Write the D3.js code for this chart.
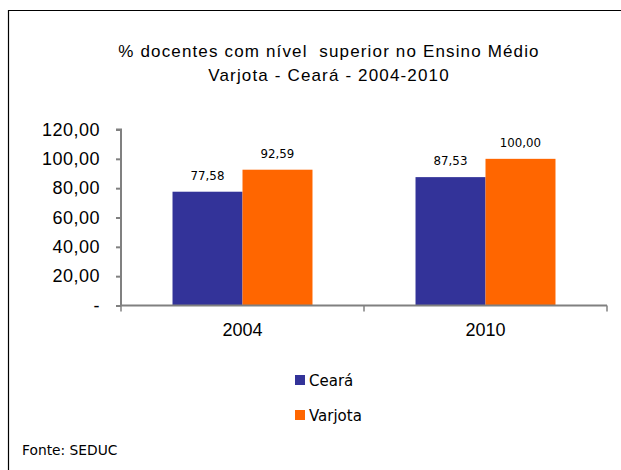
<!DOCTYPE html>
<html><head><meta charset="utf-8">
<script src="https://cdn.jsdelivr.net/npm/d3@7"></script>
<style>body{margin:0;background:#fff}</style>
</head><body>
<svg id="c" width="621" height="470"></svg>
<script>
const categories = ["2004", "2010"];
const seriesNames = ["Ceará", "Varjota"];
const ceara = [77.58, 87.53];
const varjota = [92.59, 100.00];
const yTicks = [0, 20, 40, 60, 80, 100, 120];
const colors = ["#333399", "#FF6600"];
const titleLines = ["% docentes com nível  superior no Ensino Médio", "Varjota - Ceará - 2004-2010"];
const source = "Fonte: SEDUC";

const svg = d3.select("#c");
// frame
svg.append("path").attr("d","M8.5,470 V10.5 H621").attr("fill","none").attr("stroke","#000").attr("stroke-width",1.2);

const x0 = 121, x1 = 607, yTop = 129.5, yBot = 305.5;
const x = d3.scaleBand().domain(categories).range([x0, x1]).paddingInner(0).paddingOuter(0);
const y = d3.scaleLinear().domain([0, 120]).range([yBot, yTop]);
const inner = d3.scaleBand().domain(seriesNames).range([0, x.bandwidth()]).paddingInner(0).paddingOuter(0.736);
const fmt = v => v === 0 ? "-" : d3.format(".2f")(v).replace(".", ",");

// title
[57, 81].forEach((ty, i) => {
  svg.append("text").attr("x", 329).attr("y", ty).attr("text-anchor","middle")
    .attr("font-family","Liberation Sans, Arial, sans-serif").attr("font-size",17)
    .attr("letter-spacing", 1.15).style("white-space","pre").text(titleLines[i]);
});

// bars
const data = [ceara, varjota];
const g = svg.append("g");
categories.forEach((c, i) => {
  seriesNames.forEach((s, j) => {
    const v = data[j][i];
    g.append("rect").attr("x", x(c) + inner(s)).attr("width", inner.bandwidth())
      .attr("y", y(v)).attr("height", yBot - y(v)).attr("fill", colors[j]);
    g.append("text").attr("x", x(c) + inner(s) + inner.bandwidth()/2).attr("y", y(v) - 12)
      .attr("text-anchor","middle").attr("font-family","DejaVu Sans, Verdana, sans-serif")
      .attr("font-size",11.8).attr("fill","#000").text(fmt(v));
  });
});

// y axis
const yAxis = d3.axisLeft(y).tickValues(yTicks).tickSize(5).tickFormat(fmt).tickPadding(16);
const ya = svg.append("g").attr("transform",`translate(${x0},0)`).call(yAxis);
ya.select(".domain").attr("stroke","#808080").attr("stroke-width",2).attr("d",`M-5,${yTop}H0V${yBot}`);
ya.selectAll(".tick line").attr("stroke","#808080").attr("stroke-width",2);
ya.selectAll(".tick text").attr("font-family","Liberation Sans, Arial, sans-serif").attr("font-size",18)
  .attr("letter-spacing",0.5).attr("fill","#000");

// x axis
const xa = svg.append("g").attr("transform",`translate(0,${yBot})`)
  .call(d3.axisBottom(x).tickSize(0).tickPadding(18));
xa.select(".domain").attr("stroke","#808080").attr("stroke-width",2).attr("d",`M${x0},0H${x1}`);
xa.selectAll(".tick text").attr("font-family","Liberation Sans, Arial, sans-serif").attr("font-size",18).attr("fill","#000");
const bounds = [x0].concat(categories.map(c => x(c) + x.bandwidth()));
svg.append("g").selectAll("line").data(bounds).join("line")
  .attr("x1", d => d).attr("x2", d => d).attr("y1", yBot).attr("y2", yBot + 6)
  .attr("stroke","#808080").attr("stroke-width",1.5);

// legend
seriesNames.forEach((s, j) => {
  const ly = 380 + j * 35;
  svg.append("rect").attr("x", 295).attr("y", ly - 5).attr("width", 10).attr("height", 10).attr("fill", colors[j]);
  svg.append("text").attr("x", 309).attr("y", ly + 5.5).attr("font-family","DejaVu Sans, Verdana, sans-serif")
    .attr("font-size",15).attr("fill","#000").text(s);
});

// source
svg.append("text").attr("x", 22).attr("y", 455).attr("font-family","DejaVu Sans, Verdana, sans-serif")
  .attr("font-size",13.8).attr("fill","#000").text(source);
</script>
</body></html>
